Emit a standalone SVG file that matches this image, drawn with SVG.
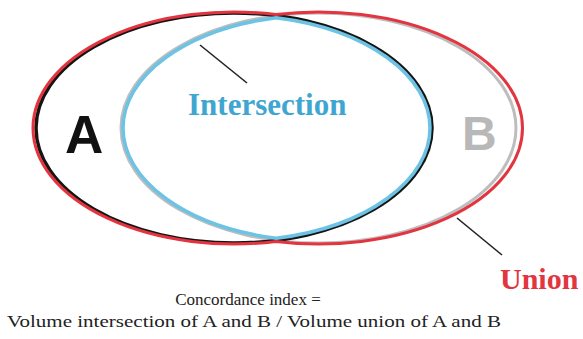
<svg xmlns="http://www.w3.org/2000/svg" width="583" height="339" viewBox="0 0 583 339">
  <style>
    .outline { fill: none; }
    .setA { stroke: #141414; stroke-width: 3.5; }
    .setB { stroke: #bdbdbd; stroke-width: 3; }
    .union { stroke: #e2353f; stroke-width: 3; }
    .inter { stroke: #6cc3e4; stroke-width: 3.5; }
    .lbl-sans { font-family: "Liberation Sans", Arial, sans-serif; font-weight: bold; }
    .lbl-serif { font-family: "Liberation Serif", "Times New Roman", serif; }
    .pointer { stroke: #222; stroke-width: 1.6; fill: none; }
  </style>
  <rect width="583" height="339" fill="#ffffff"/>

  <g id="set-b">
    <ellipse class="outline setB" cx="318.5" cy="128" rx="197.5" ry="115"/>
    <text class="lbl-sans" x="462" y="150" font-size="48" fill="#b8b8b8">B</text>
  </g>

  <g id="set-a">
    <ellipse class="outline setA" cx="234" cy="128" rx="198" ry="115"/>
    <text class="lbl-sans" x="65" y="153" font-size="53" fill="#111111">A</text>
  </g>

  <g id="union">
    <path class="outline union" d="M 275.937 14.553 A 201 116 0 1 0 275.937 241.447 A 204 116 0 1 0 275.937 14.553 Z"/>
    <text class="lbl-serif" x="500" y="289" font-size="30" font-weight="bold" fill="#e2353f">Union</text>
  </g>

  <g id="intersection">
    <path class="outline inter" d="M 276.304 17.664 A 195.5 113 0 0 0 276.304 238.336 A 196 113 0 0 0 276.304 17.664 Z"/>
    <text class="lbl-serif" x="188" y="115" font-size="31" font-weight="bold" fill="#3fa6d2">Intersection</text>
  </g>

  <g id="connectors">
    <line class="pointer" x1="200" y1="45" x2="247" y2="83"/>
    <line class="pointer" x1="457" y1="218" x2="502" y2="255"/>
  </g>

  <g id="caption">
    <text class="lbl-serif" x="248" y="305" font-size="17" fill="#222" text-anchor="middle">Concordance index =</text>
    <text class="lbl-serif" x="254" y="327" font-size="17" fill="#222" text-anchor="middle" textLength="494" lengthAdjust="spacingAndGlyphs">Volume intersection of A and B / Volume union of A and B</text>
  </g>
</svg>
